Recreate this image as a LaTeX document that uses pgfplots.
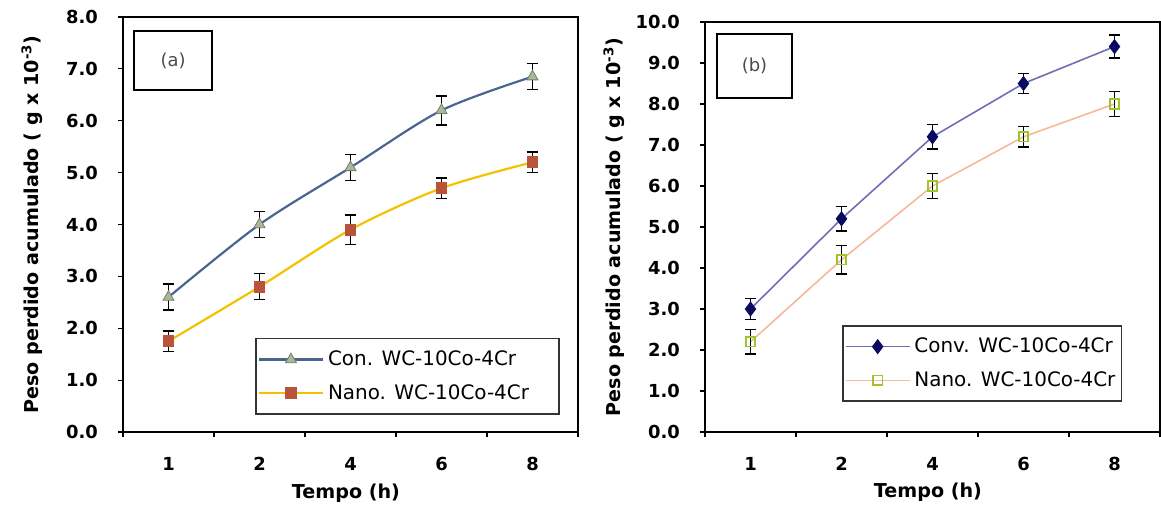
\documentclass[border=0pt]{standalone}
\usepackage{fontspec}
\setmainfont{DejaVu Sans}
\usepackage{pgfplots}
\pgfplotsset{compat=1.18}
\definecolor{conA}{HTML}{4A6690}
\definecolor{conAm}{HTML}{A9B79B}
\definecolor{nanoA}{HTML}{F2C200}
\definecolor{nanoAm}{HTML}{B9533A}
\definecolor{conB}{HTML}{6F6FB5}
\definecolor{conBm}{HTML}{0A0A60}
\definecolor{nanoB}{HTML}{F7B89A}
\definecolor{nanoBm}{HTML}{9CC72A}
\pgfplotsset{
  panel/.style={
    scale only axis,
    anchor=south west,
    xmin=-0.5, xmax=4.5,
    xtick={-0.5,0.5,1.5,2.5,3.5,4.5},
    xticklabels={},
    extra x ticks={0,1,2,3,4},
    extra x tick labels={1,2,4,6,8},
    extra x tick style={major tick length=0pt},
    xtick pos=bottom, ytick pos=left,
    tick align=outside,
    major tick length=2.5bp,
    tick style={black, line width=0.6bp},
    axis line style={black, line width=1.1bp},
    ymin=0,
    /pgf/number format/assume math mode=true,
    /pgf/number format/.cd, fixed, fixed zerofill, precision=1, /pgfplots/.cd,
    yticklabel style={font=\fontsize{9}{10}\selectfont\bfseries, xshift=-6.5bp},
    xticklabel style={font=\fontsize{9}{10}\selectfont\bfseries, yshift=-9bp},
    xlabel={Tempo (h)},
    ylabel={Peso perdido acumulado ( g x 10\textsuperscript{-3})},
    label style={font=\fontsize{9.6}{11}\selectfont\bfseries},
    xlabel style={at={(axis description cs:0.49,-0.148)}, anchor=center},
    legend style={draw=black!80, line width=0.8bp, font=\fontsize{10}{12}\selectfont,
      inner xsep=1bp, inner ysep=4bp, row sep=4bp, cells={anchor=west}},
    legend image code/.code={
      \draw[mark repeat=2,mark phase=2] plot coordinates {(0bp,0bp) (16bp,0bp) (32bp,0bp)};},
  },
  eb/.style={error bars/.cd, y dir=both, y explicit,
    error bar style={black, line width=0.7bp},
    error mark options={rotate=90, black, mark size=2.8bp, line width=0.7bp}},
}
\begin{document}
\begin{tikzpicture}
\useasboundingbox (0,0) rectangle (580.5bp,257.5bp);
\begin{axis}[panel,
  at={(61.5bp,41.5bp)}, width=227.5bp, height=207.5bp,
  ymax=8, ytick={0,1,...,8},
  ylabel style={at={(axis description cs:-0.2,0.5)}, anchor=center},
  legend style={at={(0.96,0.041)}, anchor=south east},
]
\addplot[conA, line width=1.1bp, smooth, mark=triangle*, mark size=3.2bp,
  mark options={fill=conAm, draw=conAm!70!black, line width=0.4bp}, eb]
  coordinates {(0,2.6)+-(0,0.25) (1,4.0)+-(0,0.25) (2,5.1)+-(0,0.25) (3,6.2)+-(0,0.28) (4,6.85)+-(0,0.25)};
\addlegendentry{Con. WC-10Co-4Cr\hspace*{12bp}}
\addplot[nanoA, line width=1.1bp, smooth, mark=square*, mark size=2.4bp,
  mark options={fill=nanoAm, draw=nanoAm}, eb]
  coordinates {(0,1.75)+-(0,0.2) (1,2.8)+-(0,0.25) (2,3.9)+-(0,0.28) (3,4.7)+-(0,0.2) (4,5.2)+-(0,0.2)};
\addlegendentry{Nano. WC-10Co-4Cr\hspace*{12bp}}
\node[draw=black, line width=1.1bp, anchor=north west, minimum width=39bp, minimum height=29.5bp,
  inner sep=0pt, font=\fontsize{9}{10}\selectfont, text=black!70]
  at (rel axis cs:0.022,0.969) {(a)};
\end{axis}
\begin{axis}[panel,
  at={(352.5bp,41.5bp)}, width=227.5bp, height=205bp,
  ymax=10, ytick={0,1,...,10},
  ylabel style={at={(axis description cs:-0.2,0.5)}, anchor=center},
  legend style={at={(0.917,0.073)}, anchor=south east},
]
\addplot[conB, line width=0.8bp, mark=diamond*, mark size=3.2bp,
  mark options={fill=conBm, draw=conBm}, eb]
  coordinates {(0,3.0)+-(0,0.25) (1,5.2)+-(0,0.3) (2,7.2)+-(0,0.3) (3,8.5)+-(0,0.25) (4,9.4)+-(0,0.28)};
\addlegendentry{Conv. WC-10Co-4Cr}
\addplot[nanoB, line width=0.8bp, mark=square, mark size=2.4bp,
  mark options={draw=nanoBm, fill=white, line width=0.9bp}, eb]
  coordinates {(0,2.2)+-(0,0.3) (1,4.2)+-(0,0.35) (2,6.0)+-(0,0.3) (3,7.2)+-(0,0.25) (4,8.0)+-(0,0.3)};
\addlegendentry{Nano. WC-10Co-4Cr}
\node[draw=black, line width=1.1bp, anchor=north west, minimum width=37.5bp, minimum height=32bp,
  inner sep=0pt, font=\fontsize{9}{10}\selectfont, text=black!70]
  at (rel axis cs:0.024,0.973) {(b)};
\end{axis}
\end{tikzpicture}
\end{document}
